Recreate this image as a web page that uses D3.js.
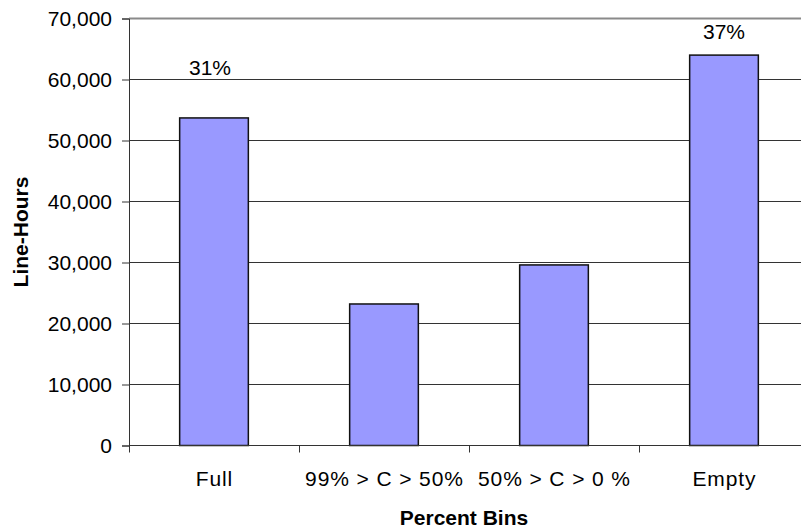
<!DOCTYPE html>
<html>
<head>
<meta charset="utf-8">
<script src="https://cdn.jsdelivr.net/npm/d3@7/dist/d3.min.js"></script>
<style>
  html, body { margin: 0; padding: 0; background: #fff; }
  svg { display: block; }
  text { font-family: "Liberation Sans", Arial, sans-serif; fill: #000; }
</style>
</head>
<body>
<svg id="chart" width="801" height="531"></svg>
<script>
// Line-hours per capacity bin
const categories = ["Full", "99% > C > 50%", "50% > C > 0 %", "Empty"];
const lineHours = [53700, 23200, 29600, 64000];
const shareLabels = ["31%", "", "", "37%"];
const yTicks = [0, 10000, 20000, 30000, 40000, 50000, 60000, 70000];

const svg = d3.select("#chart");
const plot = { left: 129, right: 809, top: 18.5, bottom: 445.5 };
const fontSize = 21;

const x = d3.scaleBand()
  .domain(categories)
  .range([plot.left, plot.right])
  .paddingInner(0.596)
  .paddingOuter(0.298);

const y = d3.scaleLinear()
  .domain([0, 70000])
  .range([plot.bottom, plot.top]);

// horizontal gridlines
svg.append("g")
  .selectAll("line")
  .data(yTicks.filter(t => t > 0 && t < 70000))
  .join("line")
  .attr("x1", plot.left).attr("x2", plot.right)
  .attr("y1", d => y(d)).attr("y2", d => y(d))
  .attr("stroke", "#333").attr("stroke-width", 1);

// plot area top border
svg.append("line")
  .attr("x1", plot.left).attr("x2", plot.right)
  .attr("y1", y(70000)).attr("y2", y(70000))
  .attr("stroke", "#8a8a8a").attr("stroke-width", 2);

// bars
svg.append("g")
  .selectAll("rect")
  .data(lineHours)
  .join("rect")
  .attr("x", (d, i) => x(categories[i]))
  .attr("width", x.bandwidth())
  .attr("y", d => y(d))
  .attr("height", d => y(0) - y(d))
  .attr("fill", "#9999ff")
  .attr("stroke", "#111")
  .attr("stroke-width", 1.5);

// y axis
const yAxis = d3.axisLeft(y)
  .tickValues(yTicks)
  .tickSize(7)
  .tickPadding(10)
  .tickFormat(d3.format(","));
const gy = svg.append("g")
  .attr("transform", `translate(${plot.left},0)`)
  .call(yAxis);
gy.select(".domain").attr("stroke", "#333");
gy.selectAll(".tick line").attr("stroke", "#333");
gy.selectAll(".tick text")
  .style("font-size", fontSize + "px")
  .style("font-family", '"Liberation Sans", Arial, sans-serif')
  .attr("fill", "#000");

// x axis line and boundary ticks
svg.append("line")
  .attr("x1", plot.left).attr("x2", plot.right)
  .attr("y1", y(0)).attr("y2", y(0))
  .attr("stroke", "#333");
const step = x.step();
svg.append("g")
  .selectAll("line")
  .data(d3.range(categories.length + 1))
  .join("line")
  .attr("x1", i => plot.left + i * step + 0.5)
  .attr("x2", i => plot.left + i * step + 0.5)
  .attr("y1", y(0)).attr("y2", y(0) + 7)
  .attr("stroke", "#333");

// category labels
const catSpacing = 0.9;
svg.append("g")
  .selectAll("text")
  .data(categories)
  .join("text")
  .attr("x", d => x(d) + x.bandwidth() / 2 + catSpacing / 2)
  .attr("y", 486)
  .attr("text-anchor", "middle")
  .style("font-size", fontSize + "px")
  .style("letter-spacing", catSpacing + "px")
  .text(d => d);

// share labels above bars
const labelLift = [43, 0, 0, 16];
const labelShift = [-4, 0, 0, 0];
svg.append("g")
  .selectAll("text")
  .data(shareLabels)
  .join("text")
  .attr("x", (d, i) => x(categories[i]) + x.bandwidth() / 2 + labelShift[i])
  .attr("y", (d, i) => y(lineHours[i]) - labelLift[i])
  .attr("text-anchor", "middle")
  .style("font-size", fontSize + "px")
  .text(d => d);

// axis titles
svg.append("text")
  .attr("x", 464)
  .attr("y", 525)
  .attr("text-anchor", "middle")
  .style("font-size", fontSize + "px")
  .style("font-weight", "bold")
  .text("Percent Bins");

svg.append("text")
  .attr("transform", `translate(28,${(plot.top + plot.bottom) / 2}) rotate(-90)`)
  .attr("text-anchor", "middle")
  .style("font-size", fontSize + "px")
  .style("font-weight", "bold")
  .text("Line-Hours");
</script>
</body>
</html>
